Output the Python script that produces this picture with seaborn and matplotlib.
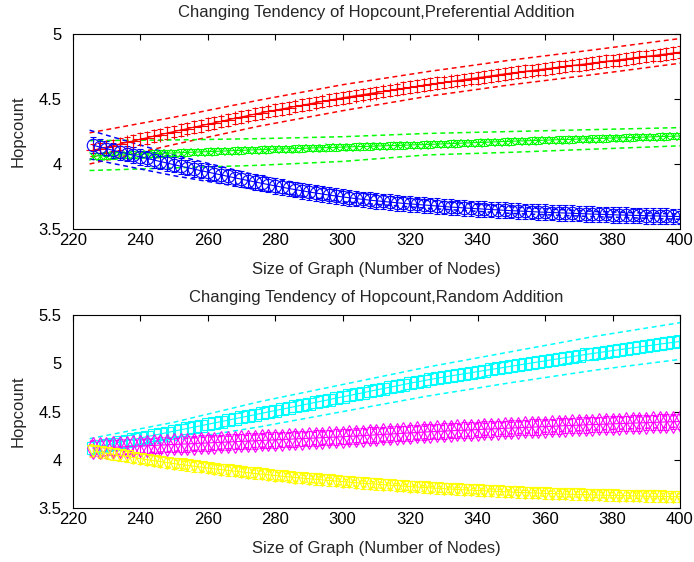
import numpy as np
import matplotlib
matplotlib.use("Agg")
import matplotlib.pyplot as plt
import seaborn as sns

# nodes where the averaged hopcount is plotted
nodes = list(range(226, 401, 2))
# nodes where the dashed bounds are read
bound_nodes = [225, 250, 275, 300, 325, 350, 375, 400]

x_ticks = [220, 240, 260, 280, 300, 320, 340, 360, 380, 400]
x_labels = ['220', '240', '260', '280', '300', '320', '340', '360', '380', '400']
top_yticks = [3.5, 4, 4.5, 5]
top_ylabels = ['3.5', '4', '4.5', '5']
bot_yticks = [3.5, 4, 4.5, 5, 5.5]
bot_ylabels = ['3.5', '4', '4.5', '5', '5.5']

# Preferential addition
pref_red = [
    4.106, 4.118, 4.130, 4.142, 4.154, 4.166, 4.178, 4.190, 4.202, 4.214,
    4.226, 4.238, 4.250, 4.261, 4.272, 4.284, 4.295, 4.306, 4.317, 4.328,
    4.340, 4.351, 4.362, 4.373, 4.384, 4.395, 4.404, 4.414, 4.424, 4.433,
    4.443, 4.452, 4.462, 4.472, 4.481, 4.491, 4.500, 4.510, 4.518, 4.526,
    4.534, 4.542, 4.550, 4.558, 4.566, 4.574, 4.582, 4.590, 4.598, 4.606,
    4.614, 4.621, 4.628, 4.635, 4.642, 4.650, 4.657, 4.664, 4.671, 4.678,
    4.686, 4.693, 4.700, 4.706, 4.713, 4.719, 4.726, 4.732, 4.738, 4.745,
    4.751, 4.758, 4.764, 4.770, 4.777, 4.783, 4.790, 4.796, 4.802, 4.809,
    4.815, 4.822, 4.828, 4.834, 4.841, 4.847, 4.854, 4.860]
pref_green = [
    4.061, 4.063, 4.065, 4.067, 4.069, 4.071, 4.073, 4.075, 4.077, 4.079,
    4.081, 4.083, 4.085, 4.087, 4.089, 4.091, 4.093, 4.095, 4.097, 4.099,
    4.101, 4.103, 4.105, 4.107, 4.109, 4.111, 4.112, 4.114, 4.116, 4.117,
    4.119, 4.120, 4.122, 4.124, 4.125, 4.127, 4.128, 4.130, 4.132, 4.133,
    4.135, 4.136, 4.138, 4.140, 4.141, 4.143, 4.144, 4.146, 4.148, 4.149,
    4.151, 4.153, 4.155, 4.157, 4.159, 4.161, 4.163, 4.165, 4.167, 4.169,
    4.171, 4.173, 4.175, 4.177, 4.178, 4.180, 4.182, 4.183, 4.185, 4.187,
    4.188, 4.190, 4.192, 4.193, 4.195, 4.196, 4.198, 4.200, 4.201, 4.203,
    4.204, 4.206, 4.207, 4.209, 4.211, 4.212, 4.214, 4.215]
pref_blue = [
    4.144, 4.131, 4.118, 4.105, 4.092, 4.080, 4.067, 4.055, 4.043, 4.031,
    4.019, 4.007, 3.995, 3.983, 3.972, 3.960, 3.949, 3.938, 3.927, 3.916,
    3.905, 3.894, 3.883, 3.873, 3.862, 3.852, 3.842, 3.832, 3.822, 3.812,
    3.803, 3.794, 3.785, 3.777, 3.769, 3.761, 3.754, 3.747, 3.740, 3.734,
    3.728, 3.722, 3.717, 3.712, 3.707, 3.702, 3.697, 3.693, 3.689, 3.685,
    3.681, 3.677, 3.673, 3.669, 3.666, 3.662, 3.659, 3.656, 3.653, 3.650,
    3.647, 3.644, 3.641, 3.639, 3.636, 3.634, 3.631, 3.629, 3.627, 3.625,
    3.623, 3.621, 3.619, 3.617, 3.615, 3.613, 3.612, 3.610, 3.608, 3.607,
    3.605, 3.604, 3.602, 3.601, 3.600, 3.598, 3.597, 3.596]

pref_red_hi = [4.24, 4.36, 4.49, 4.61, 4.71, 4.80, 4.88, 4.965]
pref_red_lo = [4.00, 4.15, 4.29, 4.41, 4.52, 4.61, 4.69, 4.775]
pref_green_hi = [4.18, 4.185, 4.195, 4.21, 4.235, 4.25, 4.265, 4.28]
pref_green_lo = [3.95, 3.97, 3.99, 4.02, 4.07, 4.09, 4.115, 4.14]
pref_blue_hi = [4.26, 4.07, 3.91, 3.79, 3.72, 3.67, 3.635, 3.615]
pref_blue_lo = [4.04, 3.91, 3.80, 3.71, 3.66, 3.62, 3.595, 3.575]

# Random addition
rand_cyan = [
    4.127, 4.141, 4.155, 4.170, 4.184, 4.198, 4.212, 4.227, 4.241, 4.255,
    4.269, 4.283, 4.298, 4.312, 4.326, 4.340, 4.354, 4.369, 4.383, 4.397,
    4.411, 4.426, 4.440, 4.454, 4.468, 4.482, 4.497, 4.511, 4.525, 4.539,
    4.553, 4.568, 4.582, 4.596, 4.610, 4.624, 4.639, 4.653, 4.667, 4.681,
    4.695, 4.710, 4.724, 4.738, 4.752, 4.766, 4.780, 4.794, 4.807, 4.820,
    4.833, 4.845, 4.857, 4.869, 4.880, 4.891, 4.902, 4.914, 4.925, 4.936,
    4.947, 4.958, 4.970, 4.981, 4.992, 5.003, 5.014, 5.025, 5.036, 5.047,
    5.058, 5.069, 5.080, 5.091, 5.101, 5.111, 5.121, 5.131, 5.140, 5.150,
    5.160, 5.169, 5.179, 5.188, 5.198, 5.207, 5.217, 5.226]
rand_magenta = [
    4.122, 4.125, 4.128, 4.131, 4.134, 4.138, 4.141, 4.144, 4.147, 4.150,
    4.154, 4.157, 4.160, 4.163, 4.166, 4.170, 4.173, 4.176, 4.179, 4.182,
    4.186, 4.189, 4.192, 4.195, 4.198, 4.202, 4.205, 4.208, 4.211, 4.214,
    4.218, 4.221, 4.224, 4.227, 4.230, 4.234, 4.237, 4.240, 4.244, 4.248,
    4.252, 4.256, 4.260, 4.264, 4.268, 4.272, 4.276, 4.280, 4.284, 4.288,
    4.292, 4.295, 4.298, 4.302, 4.305, 4.308, 4.311, 4.314, 4.318, 4.321,
    4.324, 4.327, 4.330, 4.333, 4.336, 4.339, 4.342, 4.345, 4.348, 4.351,
    4.354, 4.357, 4.360, 4.363, 4.366, 4.368, 4.371, 4.373, 4.376, 4.378,
    4.381, 4.383, 4.386, 4.388, 4.391, 4.393, 4.396, 4.398]
rand_yellow = [
    4.094, 4.082, 4.070, 4.058, 4.047, 4.036, 4.025, 4.014, 4.003, 3.993,
    3.983, 3.973, 3.963, 3.953, 3.944, 3.935, 3.926, 3.917, 3.908, 3.900,
    3.892, 3.884, 3.876, 3.868, 3.860, 3.853, 3.846, 3.839, 3.832, 3.825,
    3.818, 3.812, 3.806, 3.800, 3.794, 3.788, 3.782, 3.776, 3.770, 3.765,
    3.759, 3.754, 3.749, 3.744, 3.739, 3.734, 3.729, 3.724, 3.720, 3.715,
    3.711, 3.707, 3.703, 3.699, 3.695, 3.691, 3.688, 3.684, 3.681, 3.677,
    3.674, 3.671, 3.668, 3.665, 3.662, 3.659, 3.657, 3.654, 3.652, 3.649,
    3.647, 3.645, 3.643, 3.641, 3.639, 3.637, 3.635, 3.633, 3.631, 3.630,
    3.628, 3.627, 3.625, 3.624, 3.623, 3.621, 3.620, 3.619]

rand_cyan_hi = [4.22, 4.39, 4.60, 4.78, 4.96, 5.12, 5.28, 5.42]
rand_cyan_lo = [4.05, 4.20, 4.34, 4.50, 4.66, 4.80, 4.93, 5.04]
rand_magenta_hi = [4.19, 4.22, 4.26, 4.30, 4.35, 4.39, 4.43, 4.46]
rand_magenta_lo = [4.04, 4.09, 4.13, 4.17, 4.22, 4.27, 4.31, 4.34]
rand_yellow_hi = [4.16, 4.00, 3.89, 3.80, 3.73, 3.69, 3.665, 3.65]
rand_yellow_lo = [4.03, 3.92, 3.81, 3.74, 3.67, 3.635, 3.61, 3.595]

# half length of the error bars per series
err_red, err_green, err_blue = 0.045, 0.025, 0.06
err_cyan, err_magenta, err_yellow = 0.06, 0.08, 0.055

sns.set_style("white")
plt.rcParams['font.family'] = ['Liberation Sans', 'DejaVu Sans']
plt.rcParams['font.size'] = 12

fig = plt.figure(figsize=(6.94, 5.62), dpi=100)
ax1 = fig.add_axes([0.1048, 0.5925, 0.875, 0.347])
ax2 = fig.add_axes([0.1048, 0.0956, 0.875, 0.344])

dash = (0, (3.2, 2.4))


def draw_series(ax, mean, err, hi, lo, color, marker, msize):
    ax.errorbar(nodes, mean, yerr=err, fmt='-' + marker, color=color,
                markersize=msize, markerfacecolor='none', markeredgewidth=0.8,
                elinewidth=0.8, capsize=2.5, capthick=0.8, linewidth=0.8)
    sns.lineplot(x=bound_nodes, y=hi, ax=ax, color=color, linestyle=dash,
                 linewidth=1.1)
    sns.lineplot(x=bound_nodes, y=lo, ax=ax, color=color, linestyle=dash,
                 linewidth=1.1)


draw_series(ax1, pref_red, err_red, pref_red_hi, pref_red_lo, '#ff0000', '+', 10)
draw_series(ax1, pref_green, err_green, pref_green_hi, pref_green_lo, '#00ff00', 'x', 6)
draw_series(ax1, pref_blue, err_blue, pref_blue_hi, pref_blue_lo, '#0000ff', 'o', 9)

draw_series(ax2, rand_cyan, err_cyan, rand_cyan_hi, rand_cyan_lo, '#00ffff', 's', 9)
draw_series(ax2, rand_magenta, err_magenta, rand_magenta_hi, rand_magenta_lo, '#ff00ff', 'd', 11)
draw_series(ax2, rand_yellow, err_yellow, rand_yellow_hi, rand_yellow_lo, '#ffff00', 'v', 9)

titles = ['Changing Tendency of Hopcount,Preferential Addition',
          'Changing Tendency of Hopcount,Random Addition']
for ax, title, yt, yl, ylim in [(ax1, titles[0], top_yticks, top_ylabels, (3.5, 5)),
                                (ax2, titles[1], bot_yticks, bot_ylabels, (3.5, 5.5))]:
    ax.set_xlim(220, 400)
    ax.set_ylim(*ylim)
    ax.set_xticks(x_ticks)
    ax.set_xticklabels(x_labels)
    ax.set_yticks(yt)
    ax.set_yticklabels(yl)
    ax.tick_params(direction='in', length=4, width=0.8, top=True, right=True,
                   labelsize=12, colors='black')
    ax.tick_params(axis='x', pad=3)
    ax.tick_params(axis='y', pad=8)
    for s in ax.spines.values():
        s.set_color('black')
        s.set_linewidth(0.8)
    ax.set_xlabel('Size of Graph (Number of Nodes)', fontsize=12, labelpad=10)
    ax.set_ylabel('Hopcount', fontsize=12, labelpad=9)

ax1.set_title(titles[0], fontsize=12, pad=12)
ax2.set_title(titles[1], fontsize=12, pad=9)

fig.savefig('out.png', dpi=100)
